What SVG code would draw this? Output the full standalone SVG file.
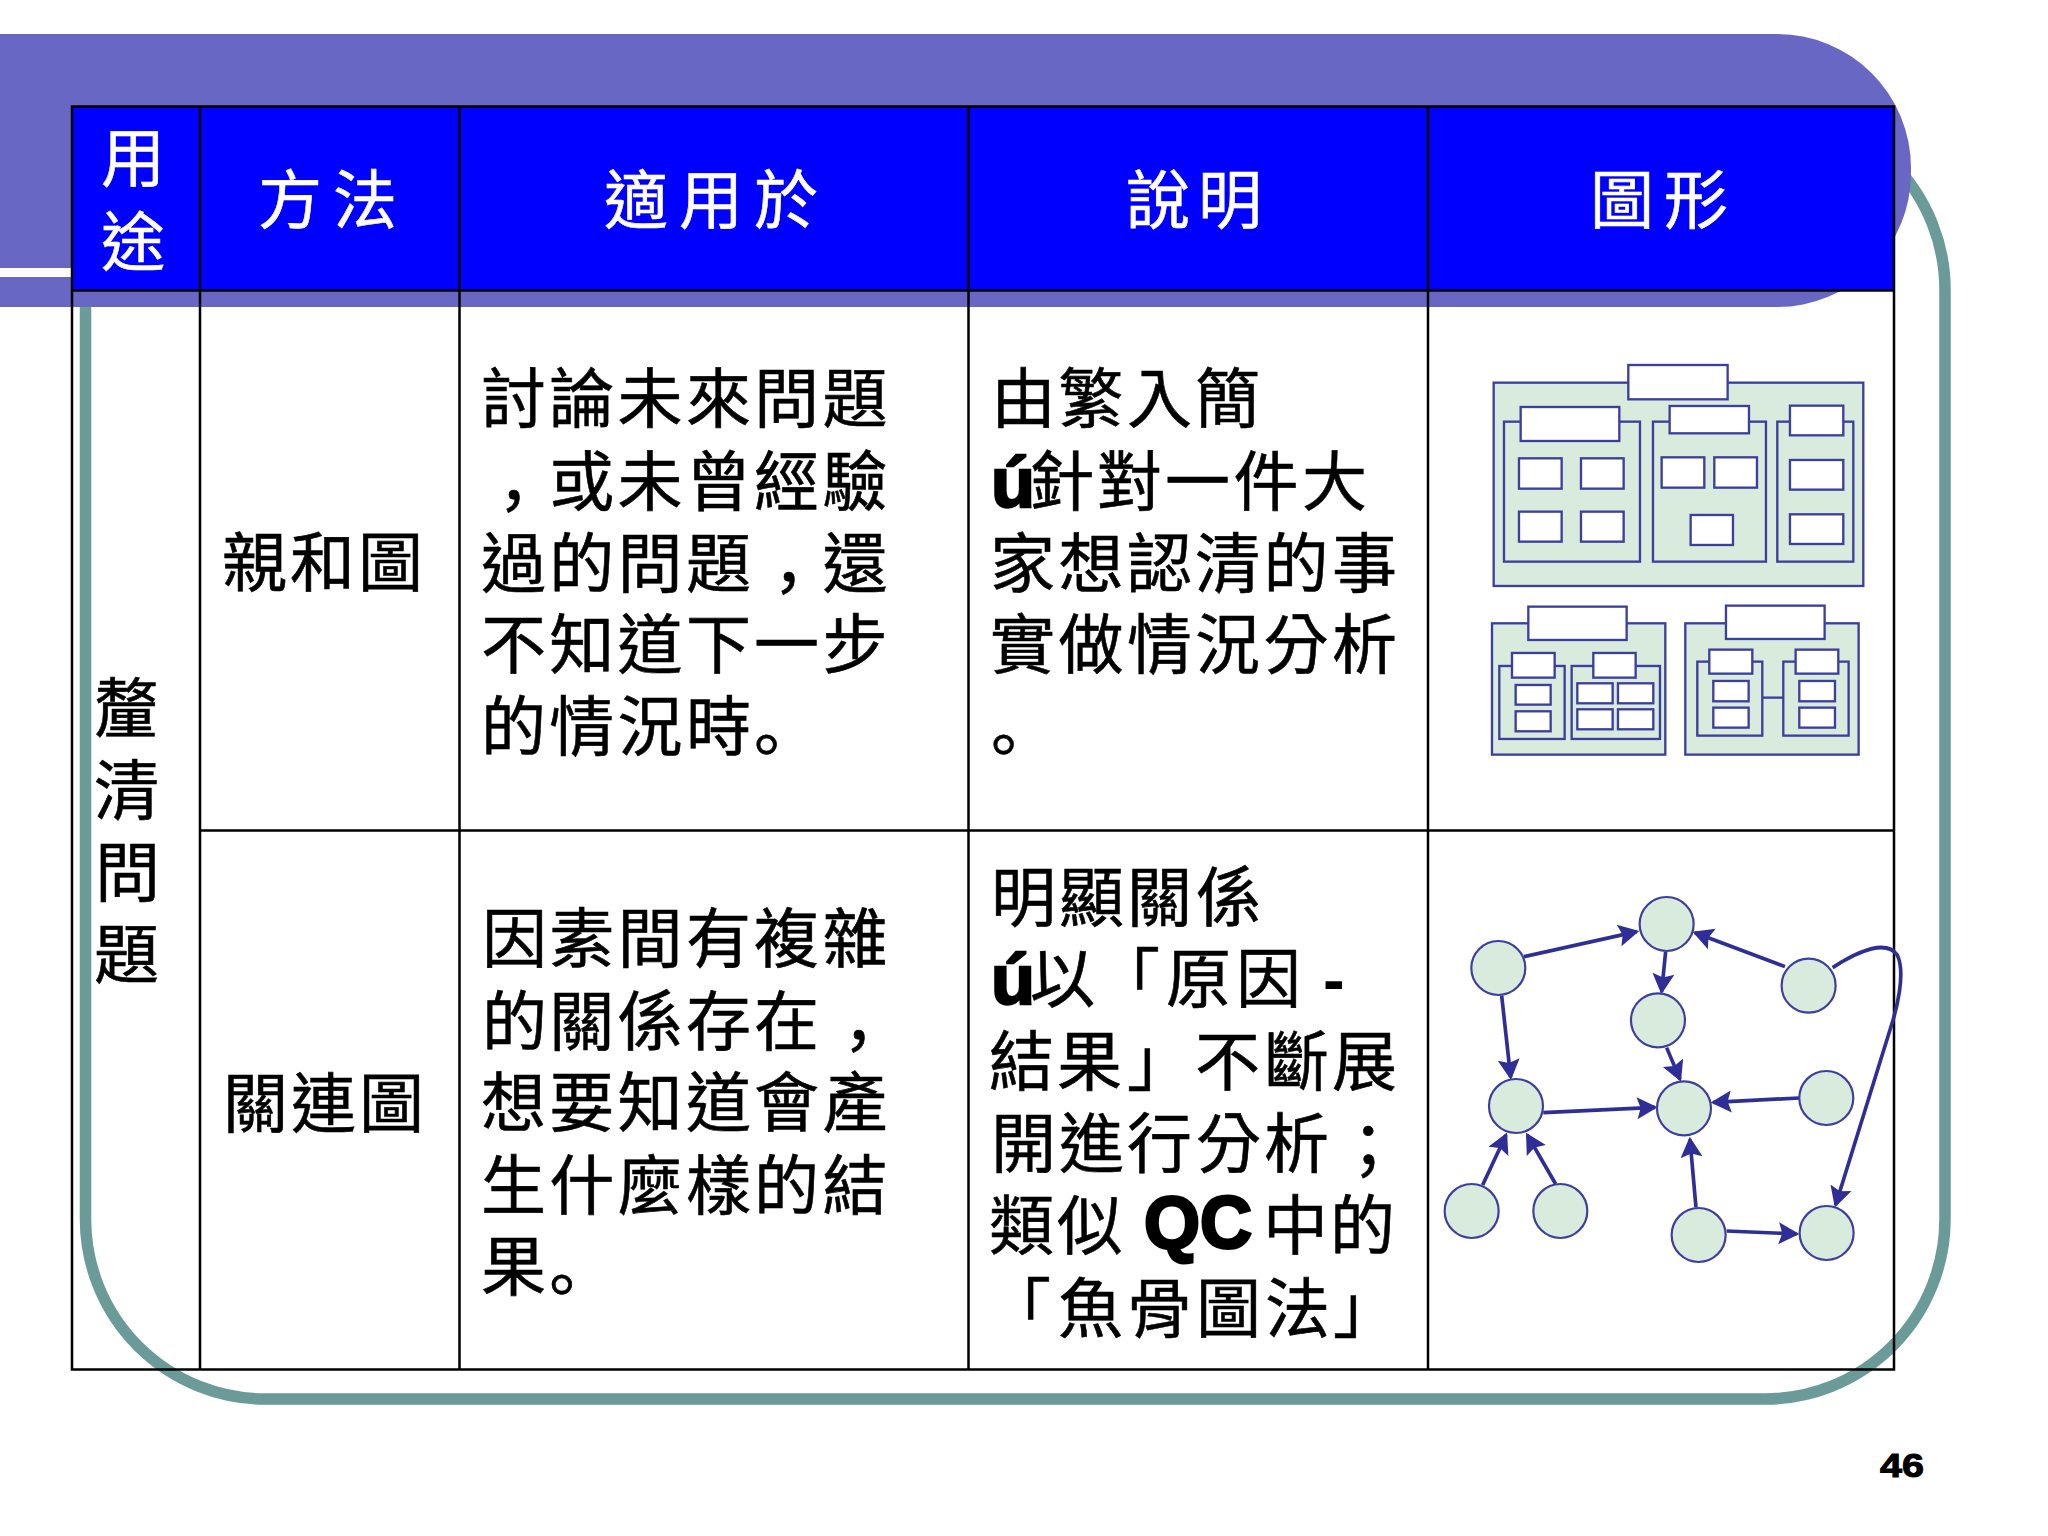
<svg xmlns="http://www.w3.org/2000/svg" width="2048" height="1536" viewBox="0 0 2048 1536">
<style>
text{font-family:"Noto Sans CJK TC","Noto Sans CJK JP",sans-serif;font-size:65px;fill:#000;stroke:#000;stroke-width:.6px}
.h{fill:#fff;stroke:#fff;font-size:64px}
.p{font-family:"Noto Sans CJK SC","Noto Sans CJK TC",sans-serif}
.b{font-family:"Liberation Sans",Arial,sans-serif;font-weight:700;stroke:#000;stroke-width:2.4px}
.g{fill:#d8ebdc;stroke:#3c3f9e;stroke-width:7}
.w{fill:#fff;stroke:#3c3f9e;stroke-width:7}
.c{fill:#d8ebdc;stroke:#3c3f9e;stroke-width:6.500}
.a{fill:none;stroke:#2e2e96;stroke-width:11;marker-end:url(#arrow)}
.t{stroke:#000;stroke-width:2.5;fill:none}
</style>
<defs>
<marker id="arrow" markerUnits="userSpaceOnUse" markerWidth="80" markerHeight="80" viewBox="0 -40 80 80" refX="54" refY="0" orient="auto">
<path d="M0,-33 L62,0 L0,33 L11,0 Z" fill="#2e2e96"/>
</marker>
</defs>
<rect width="2048" height="1536" fill="#fff"/>
<rect id="frame" x="85.500" y="110" width="1859.500" height="1289" rx="180" ry="180" fill="none" stroke="#6a9b98" stroke-width="11.500"/>
<rect id="band" x="-200" y="34" width="2111" height="273" rx="134" ry="134" fill="#6868c4"/>
<rect id="band-line" x="0" y="268" width="75" height="9" fill="#fff"/>
<g id="table">
<rect x="72" y="106" width="1822" height="184.500" fill="#0000ff"/>
<path class="t" d="M72,106.500H1894V1369.500H72ZM72,290.500H1894M200,830.500H1894M200,106V1369M459.500,106V1369M968.500,106V1369M1428,106V1369"/>
</g>
<g id="header">
<text class="h" x="101" y="181">用</text>
<text class="h" x="101" y="265">途</text>
<text class="h" x="258 333" y="223">方法</text>
<text class="h" x="604 679 754" y="223">適用於</text>
<text class="h" x="1126 1198" y="223">說明</text>
<text class="h" x="1590 1664" y="223">圖形</text>
</g>
<g id="col-use">
<text x="94" y="732">釐</text>
<text x="94" y="814">清</text>
<text x="95" y="896">問</text>
<text x="94" y="978">題</text>
</g>
<g id="col-method">
<text x="222 290 358" y="586">親和圖</text>
<text x="223 291 359" y="1127">關連圖</text>
</g>
<g id="col-for">
<text x="481 549.300 617.600 686 754 822.500" y="422">討論未來問題</text>
<text x="498 549.300 617.600 686 754 822.500" y="505"><tspan class="p">，</tspan>或未曾經驗</text>
<text x="481 549.300 617.600 686 773 822.500" y="587">過的問題<tspan class="p">，</tspan>還</text>
<text x="481 549.300 617.600 686 754 822.500" y="668">不知道下一步</text>
<text x="481 549.300 617.600 686 754" y="750">的情況時<tspan class="p">。</tspan></text>
<text x="482 549.300 617.600 686 754 822.500" y="962">因素間有複雜</text>
<text x="482 549.300 617.600 686 754 843" y="1045">的關係存在<tspan class="p">，</tspan></text>
<text x="481 549.300 617.600 686 754 822.500" y="1126">想要知道會產</text>
<text x="481 549.300 617.600 686 754 822.500" y="1209">生什麼樣的結</text>
<text x="481 549.300" y="1290">果<tspan class="p">。</tspan></text>
</g>
<g id="col-desc">
<text x="991 1058.500 1127 1195" y="422">由繁入簡</text>
<text class="b" x="991" y="507" style="font-size:70px" textLength="44" lengthAdjust="spacingAndGlyphs">ú</text>
<text x="1029 1097 1165 1233.500 1302" y="505">針對一件大</text>
<text x="990 1058.500 1127 1195 1263.500 1332" y="587">家想認清的事</text>
<text x="990 1058.500 1127 1195 1263.500 1332" y="668">實做情況分析</text>
<text class="p" x="991" y="750">。</text>
<text x="991 1059 1127 1196" y="921">明顯關係</text>
<text class="b" x="991" y="1004" style="font-size:70px" textLength="44" lengthAdjust="spacingAndGlyphs">ú</text>
<text x="1030 1095 1166 1236" y="1002">以「原因</text>
<text class="b" x="1323" y="1002" style="stroke:none">-</text>
<text x="989 1057 1127 1195 1264 1332" y="1085">結果」不斷展</text>
<text x="991 1059 1127 1196 1264 1352" y="1167">開進行分析<tspan class="p">；</tspan></text>
<text x="989 1057" y="1249">類似</text>
<text class="b" x="1144" y="1248" style="font-size:74px;stroke-width:3px" textLength="108" lengthAdjust="spacingAndGlyphs">QC</text>
<text x="1263 1330" y="1249">中的</text>
<text x="986 1058 1127 1196 1265 1333" y="1332">「魚骨圖法」</text>
</g>
<g id="affinity" transform="translate(1420,340) scale(0.3333)">
<rect class="g" x="221" y="128" width="1109" height="610"/>
<rect class="w" x="625" y="75" width="298" height="103"/>
<rect class="g" x="252" y="245" width="408" height="420"/>
<rect class="w" x="302" y="201" width="296" height="102"/>
<rect class="w" x="297" y="355" width="128" height="91"/><rect class="w" x="483" y="355" width="128" height="91"/>
<rect class="w" x="297" y="515" width="128" height="90"/><rect class="w" x="483" y="515" width="128" height="90"/>
<rect class="g" x="699" y="245" width="339" height="420"/>
<rect class="w" x="749" y="198" width="238" height="82"/>
<rect class="w" x="725" y="352" width="128" height="91"/><rect class="w" x="883" y="352" width="128" height="91"/>
<rect class="w" x="812" y="525" width="127" height="90"/>
<rect class="g" x="1072" y="245" width="228" height="420"/>
<rect class="w" x="1110" y="197" width="160" height="89"/>
<rect class="w" x="1110" y="360" width="160" height="89"/>
<rect class="w" x="1110" y="523" width="160" height="89"/>
<rect class="g" x="216" y="850" width="520" height="394"/>
<rect class="w" x="325" y="800" width="295" height="100"/>
<rect class="g" x="238" y="978" width="196" height="219"/>
<rect class="w" x="276" y="939" width="128" height="74"/>
<rect class="w" x="287" y="1035" width="105" height="59"/><rect class="w" x="287" y="1114" width="105" height="60"/>
<rect class="g" x="455" y="978" width="265" height="219"/>
<rect class="w" x="520" y="939" width="127" height="74"/>
<rect class="w" x="472" y="1030" width="106" height="60"/><rect class="w" x="594" y="1030" width="106" height="60"/>
<rect class="w" x="472" y="1108" width="106" height="60"/><rect class="w" x="594" y="1108" width="106" height="60"/>
<rect class="g" x="796" y="850" width="520" height="394"/>
<rect class="w" x="918" y="797" width="296" height="100"/>
<rect class="g" x="832" y="965" width="195" height="222"/>
<rect class="w" x="868" y="929" width="129" height="72"/>
<rect class="w" x="880" y="1023" width="106" height="61"/><rect class="w" x="880" y="1103" width="106" height="60"/>
<rect class="g" x="1090" y="965" width="196" height="222"/>
<rect class="w" x="1127" y="929" width="128" height="72"/>
<rect class="w" x="1138" y="1023" width="107" height="61"/><rect class="w" x="1138" y="1103" width="107" height="60"/>
<path class="w" d="M1027,1073H1090"/>
</g>
<g id="relation" transform="translate(1420,870) scale(0.3333)">
<g id="connectors">
<path class="a" d="M312,260L650,185"/>
<path class="a" d="M737,245L725,365"/>
<path class="a" d="M1095,290L825,188"/>
<path class="a" d="M245,377L272,622"/>
<path class="a" d="M740,533L780,628"/>
<path class="a" d="M370,728L705,712"/>
<path class="a" d="M1138,684L880,697"/>
<path class="a" d="M188,945L258,795"/>
<path class="a" d="M407,942L322,795"/>
<path class="a" d="M828,1012L810,808"/>
<path class="a" d="M920,1083L1130,1092"/>
<path class="a" d="M1238,293C1320,240 1400,210 1432,255C1458,310 1430,420 1410,480L1247,1005"/>
</g>
<g id="n1"><circle class="c" cx="235" cy="294" r="81"/></g>
<g id="n2"><circle class="c" cx="740" cy="162" r="81"/></g>
<g id="n3"><circle class="c" cx="1166" cy="347" r="81"/></g>
<g id="n4"><circle class="c" cx="714" cy="451" r="81"/></g>
<g id="n5"><circle class="c" cx="288" cy="708" r="81"/></g>
<g id="n6"><circle class="c" cx="792" cy="715" r="81"/></g>
<g id="n7"><circle class="c" cx="1219" cy="684" r="81"/></g>
<g id="n8"><circle class="c" cx="155" cy="1023" r="81"/></g>
<g id="n9"><circle class="c" cx="421" cy="1023" r="81"/></g>
<g id="n10"><circle class="c" cx="836" cy="1095" r="81"/></g>
<g id="n11"><circle class="c" cx="1220" cy="1089" r="81"/></g>
</g>
<text id="page" class="b" x="1880" y="1477" style="font-size:34px;stroke-width:1px" textLength="44" lengthAdjust="spacingAndGlyphs">46</text>
</svg>
